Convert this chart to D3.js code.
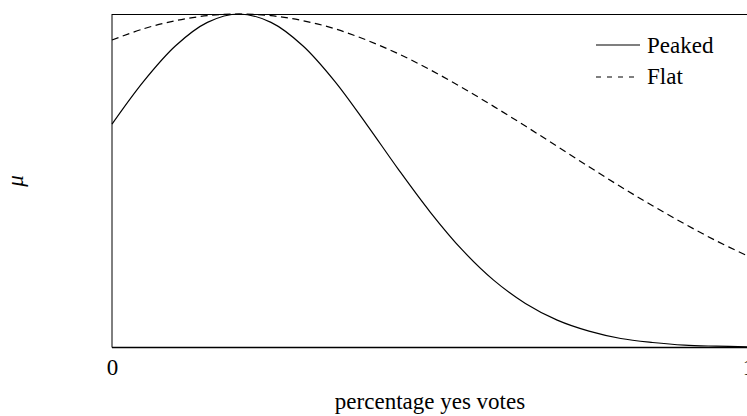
<!DOCTYPE html>
<html>
<head>
<meta charset="utf-8">
<script src="https://cdn.jsdelivr.net/npm/d3@7"></script>
<style>
  html, body { margin: 0; padding: 0; background: #fff; }
  svg { display: block; }
  text { font-family: "Liberation Serif", "DejaVu Serif", serif; fill: #000; }
</style>
</head>
<body>
<svg id="chart" width="747" height="416"></svg>
<script>
// Data
const xValues = [0, 0.05, 0.10, 0.15, 0.20, 0.25, 0.30, 0.35, 0.40, 0.45, 0.50,
                 0.55, 0.60, 0.65, 0.70, 0.75, 0.80, 0.85, 0.90, 0.95, 1.00];
const peaked = [0.670, 0.799, 0.905, 0.975, 1.000, 0.975, 0.905, 0.799, 0.670, 0.535, 0.407,
                0.294, 0.202, 0.132, 0.082, 0.049, 0.027, 0.015, 0.007, 0.004, 0.002];
const flat   = [0.922, 0.956, 0.980, 0.995, 1.000, 0.995, 0.980, 0.956, 0.922, 0.881, 0.833,
                0.780, 0.723, 0.664, 0.603, 0.542, 0.482, 0.425, 0.371, 0.320, 0.274];
const seriesNames = ["Peaked", "Flat"];
const xTickValues = [0, 1];
const xTitle = "percentage yes votes";
const yTitle = "\u03BC";

(function () {
const svg = d3.select("#chart");
const pLeft = 112, pRight = 748, pTop = 14, pBottom = 347.5;

const x = d3.scaleLinear().domain([0, 1]).range([pLeft, pRight]);
const y = d3.scaleLinear().domain([0, 1]).range([pBottom, pTop]);

const fontSize = 23;

// Frame
svg.append("line").attr("x1", pLeft).attr("x2", pLeft).attr("y1", pTop).attr("y2", pBottom)
  .attr("stroke", "#000").attr("stroke-width", 1);
svg.append("line").attr("x1", pLeft).attr("x2", pRight).attr("y1", pTop + 0.5).attr("y2", pTop + 0.5)
  .attr("stroke", "#000").attr("stroke-width", 1.1);
svg.append("line").attr("x1", pLeft).attr("x2", pRight).attr("y1", pBottom).attr("y2", pBottom)
  .attr("stroke", "#000").attr("stroke-width", 1.4);
svg.append("line").attr("x1", pRight).attr("x2", pRight).attr("y1", pTop).attr("y2", pBottom)
  .attr("stroke", "#000").attr("stroke-width", 1);

// X axis ticks (labels only)
const xAxis = d3.axisBottom(x).tickValues(xTickValues).tickSize(0).tickPadding(0)
  .tickFormat(d3.format("d"));
const gx = svg.append("g").attr("transform", `translate(0,${pBottom})`).call(xAxis);
gx.select(".domain").remove();
gx.selectAll("text")
  .attr("font-family", "Liberation Serif, serif")
  .attr("font-size", fontSize)
  .attr("dy", null)
  .attr("y", 27.5)
  .attr("fill", "#000");

// Curves
const line = d3.line()
  .x((d, i) => x(xValues[i]))
  .y(d => y(d))
  .curve(d3.curveCatmullRom.alpha(0.5));

svg.append("path").datum(peaked)
  .attr("d", line).attr("fill", "none").attr("stroke", "#000").attr("stroke-width", 1.2);
svg.append("path").datum(flat)
  .attr("d", line).attr("fill", "none").attr("stroke", "#000").attr("stroke-width", 1.2)
  .attr("stroke-dasharray", "7,4.5");

// Legend
const legend = svg.append("g");
const legendItems = [
  { name: seriesNames[0], dash: null, ly: 45, ty: 53 },
  { name: seriesNames[1], dash: "5,6", ly: 77, ty: 84 }
];
legendItems.forEach(it => {
  const l = legend.append("line").attr("x1", 596).attr("x2", 640)
    .attr("y1", it.ly).attr("y2", it.ly)
    .attr("stroke", "#000").attr("stroke-width", 1.2);
  if (it.dash) l.attr("stroke-dasharray", it.dash);
  legend.append("text").attr("x", 647).attr("y", it.ty)
    .attr("font-size", fontSize).text(it.name);
});

// Axis titles
svg.append("text")
  .attr("x", (pLeft + pRight) / 2).attr("y", 409)
  .attr("text-anchor", "middle").attr("font-size", fontSize)
  .text(xTitle);

svg.append("text")
  .attr("transform", "translate(23,181) rotate(-90)")
  .attr("text-anchor", "middle").attr("font-size", fontSize)
  .attr("font-style", "italic")
  .text(yTitle);
})();
</script>
</body>
</html>
